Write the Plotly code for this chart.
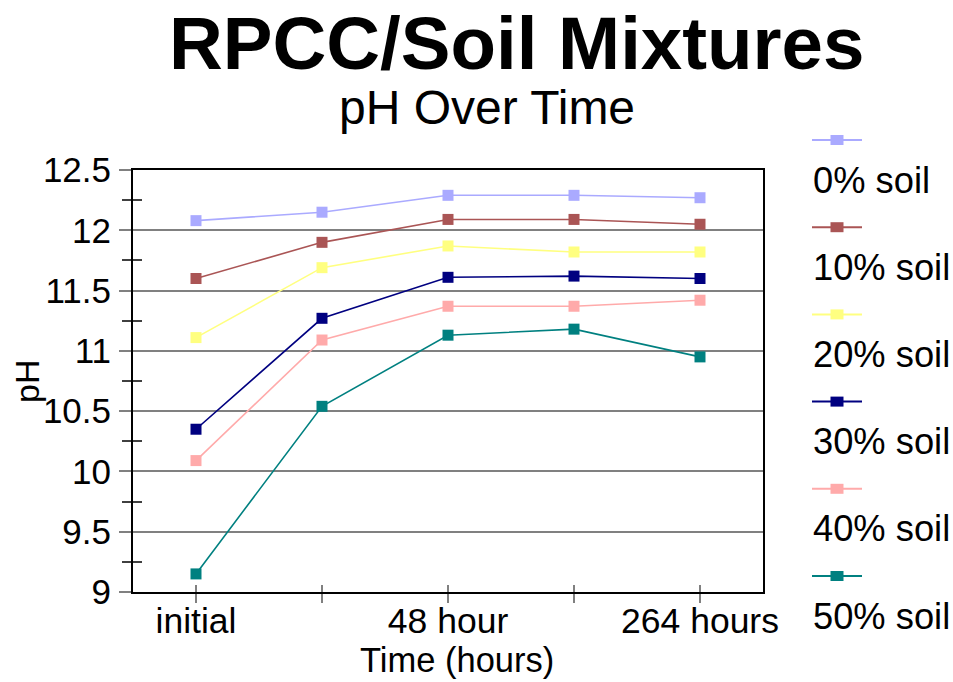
import plotly.graph_objects as go

# Sampling times (only every other label is printed on the axis)
time_labels = ["initial", "", "48 hour", "", "264 hours"]
time_index = [0, 1, 2, 3, 4]

# pH readings per soil fraction
series_names = ["0% soil", "10% soil", "20% soil", "30% soil", "40% soil", "50% soil"]
ph_0 = [12.08, 12.15, 12.29, 12.29, 12.27]
ph_10 = [11.60, 11.90, 12.09, 12.09, 12.05]
ph_20 = [11.11, 11.69, 11.87, 11.82, 11.82]
ph_30 = [10.35, 11.27, 11.61, 11.62, 11.60]
ph_40 = [10.09, 11.09, 11.37, 11.37, 11.42]
ph_50 = [9.15, 10.54, 11.13, 11.18, 10.95]
series_values = [ph_0, ph_10, ph_20, ph_30, ph_40, ph_50]
series_colors = ["#AAAAFF", "#AA5555", "#FFFF80", "#000080", "#FFAAAA", "#008080"]

W, H = 953, 682
L, R, T, B = 133, 763, 170, 592
FONT = "Liberation Sans, Arial, sans-serif"


def xp(px):
    return (px - L) / (R - L)


def yp(py):
    return (B - py) / (B - T)


fig = go.Figure()
for name, vals, col in zip(series_names, series_values, series_colors):
    fig.add_trace(go.Scatter(
        x=time_index, y=vals, name=name, mode="lines+markers",
        line=dict(color=col, width=1.6),
        marker=dict(symbol="square", size=11, color=col),
        showlegend=False,
    ))

# empty trace on the overlay axes so the inner tick marks get drawn
fig.add_trace(go.Scatter(x=[], y=[], xaxis="x2", yaxis="y2", showlegend=False,
                         hoverinfo="skip"))

fig.update_layout(
    width=W, height=H,
    margin=dict(l=L, r=W - R, t=T, b=H - B, pad=0),
    paper_bgcolor="white", plot_bgcolor="white",
    font=dict(family=FONT, color="black"),
    xaxis=dict(
        range=[-0.5, 4.5], tickvals=time_index, ticktext=time_labels,
        ticks="outside", ticklen=9, tickcolor="#808080", tickwidth=1.5,
        showline=True, linecolor="black", linewidth=2, mirror=True,
        showgrid=False, zeroline=False, ticklabelstandoff=-13,
        tickfont=dict(size=35.5, family=FONT),
    ),
    xaxis2=dict(
        range=[-0.5, 4.5], overlaying="x", anchor="y", tickvals=time_index,
        ticks="inside", ticklen=7, tickcolor="#808080", tickwidth=1.5,
        showticklabels=False, showgrid=False, showline=False, zeroline=False,
    ),
    yaxis=dict(
        range=[9, 12.5], tickvals=[9, 9.5, 10, 10.5, 11, 11.5, 12, 12.5],
        ticktext=["9", "9.5", "10", "10.5", "11", "11.5", "12", "12.5"],
        ticks="outside", ticklen=12, tickcolor="#808080", tickwidth=2,
        showline=True, linecolor="black", linewidth=2, mirror=True,
        showgrid=True, gridcolor="#808080", gridwidth=2, zeroline=False,
        ticklabelstandoff=1,
        tickfont=dict(size=35, family=FONT),
        minor=dict(tickvals=[9.25, 9.75, 10.25, 10.75, 11.25, 11.75, 12.25],
                   ticks="outside", ticklen=9, tickcolor="#404040", tickwidth=2,
                   showgrid=False),
    ),
    yaxis2=dict(
        range=[9, 12.5], overlaying="y", anchor="x", side="left",
        tickvals=[9.25, 9.75, 10.25, 10.75, 11.25, 11.75, 12.25],
        ticks="inside", ticklen=9, tickcolor="#404040", tickwidth=2,
        showticklabels=False, showgrid=False, showline=False, zeroline=False,
    ),
)

annotations = [
    dict(text="<b>RPCC/Soil Mixtures</b>", x=xp(516), y=yp(44), font=dict(size=74.5)),
    dict(text="pH Over Time", x=xp(487), y=yp(108), font=dict(size=48)),
    dict(text="Time (hours)", x=xp(457), y=yp(660), font=dict(size=34.5)),
    dict(text="pH", x=xp(27), y=yp(381), textangle=-90, font=dict(size=34)),
]

# legend: key line with square marker above each label
shapes = []
key_y0, key_step = 140, 87.2
for i, (name, col) in enumerate(zip(series_names, series_colors)):
    ky = key_y0 + i * key_step
    shapes.append(dict(type="line", xref="paper", yref="paper",
                       x0=xp(812), x1=xp(862), y0=yp(ky), y1=yp(ky),
                       line=dict(color=col, width=2)))
    shapes.append(dict(type="rect", xref="paper", yref="paper",
                       x0=xp(830.5), x1=xp(843.5), y0=yp(ky - 5), y1=yp(ky + 5),
                       line=dict(width=0), fillcolor=col))
    annotations.append(dict(text=name, x=xp(811), y=yp(ky + 40), xanchor="left",
                            font=dict(size=36.3)))

for a in annotations:
    a.setdefault("xanchor", "center")
    a.update(xref="paper", yref="paper", yanchor="middle", showarrow=False)
    a["font"]["family"] = FONT
    a["font"]["color"] = "black"

fig.update_layout(annotations=annotations, shapes=shapes)

fig.write_html("out.html")
